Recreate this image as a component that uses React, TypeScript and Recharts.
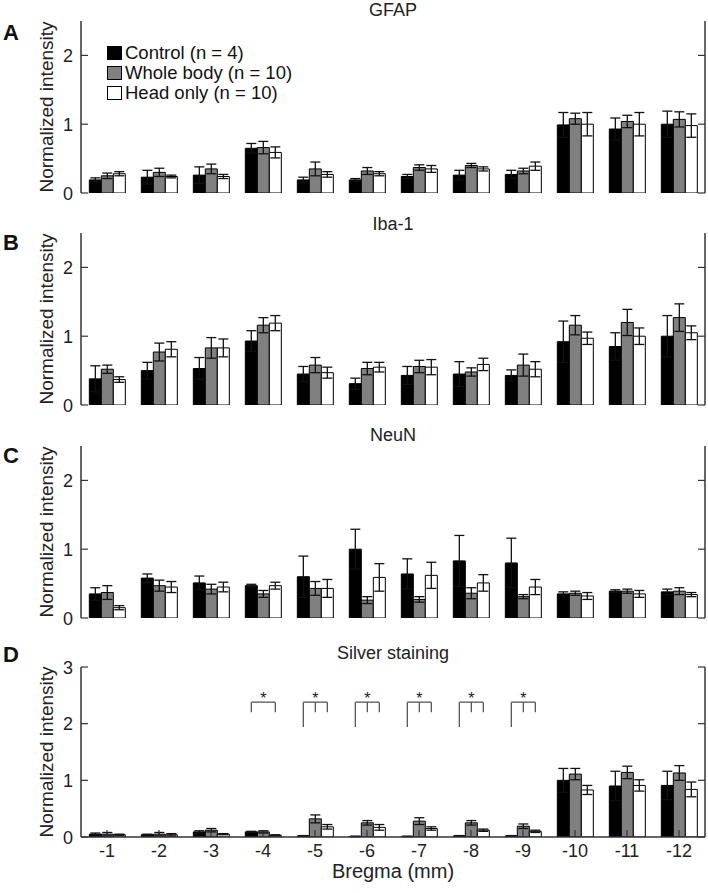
import { BarChart, Bar, XAxis, YAxis, ErrorBar, LabelList } from "recharts";

const FONT = "'Liberation Sans', Arial, Helvetica, sans-serif";
const AXIS = "#333333";

const categories = ["-1", "-2", "-3", "-4", "-5", "-6", "-7", "-8", "-9", "-10", "-11", "-12"];

const seriesNames = ["Control (n = 4)", "Whole body (n = 10)", "Head only (n = 10)"];
const seriesFills = ["#000000", "#808080", "#ffffff"];

// A: GFAP
const gfapControl = [0.19, 0.23, 0.26, 0.65, 0.19, 0.19, 0.24, 0.26, 0.27, 0.99, 0.93, 1.0];
const gfapControlErr = [0.03, 0.1, 0.12, 0.07, 0.04, 0.02, 0.03, 0.07, 0.06, 0.18, 0.16, 0.19];
const gfapWhole = [0.25, 0.3, 0.35, 0.66, 0.35, 0.32, 0.37, 0.4, 0.32, 1.08, 1.04, 1.07];
const gfapWholeErr = [0.04, 0.06, 0.07, 0.09, 0.1, 0.05, 0.04, 0.03, 0.04, 0.08, 0.09, 0.11];
const gfapHead = [0.28, 0.24, 0.24, 0.59, 0.27, 0.28, 0.35, 0.35, 0.39, 1.0, 1.0, 0.98];
const gfapHeadErr = [0.03, 0.02, 0.03, 0.08, 0.04, 0.03, 0.05, 0.03, 0.06, 0.17, 0.17, 0.17];

// B: Iba-1
const ibaControl = [0.38, 0.5, 0.53, 0.93, 0.45, 0.31, 0.43, 0.45, 0.43, 0.92, 0.85, 1.0];
const ibaControlErr = [0.19, 0.12, 0.16, 0.15, 0.11, 0.08, 0.13, 0.18, 0.08, 0.3, 0.2, 0.3];
const ibaWhole = [0.52, 0.77, 0.83, 1.16, 0.58, 0.53, 0.56, 0.48, 0.58, 1.16, 1.2, 1.27];
const ibaWholeErr = [0.06, 0.13, 0.15, 0.11, 0.11, 0.09, 0.09, 0.06, 0.16, 0.14, 0.19, 0.2];
const ibaHead = [0.37, 0.81, 0.83, 1.19, 0.47, 0.55, 0.55, 0.59, 0.52, 0.97, 1.0, 1.05];
const ibaHeadErr = [0.04, 0.11, 0.13, 0.11, 0.08, 0.07, 0.11, 0.09, 0.11, 0.09, 0.12, 0.1];

// C: NeuN
const neunControl = [0.35, 0.58, 0.51, 0.47, 0.6, 1.0, 0.64, 0.83, 0.8, 0.35, 0.39, 0.38];
const neunControlErr = [0.09, 0.06, 0.1, 0.02, 0.3, 0.29, 0.22, 0.37, 0.36, 0.03, 0.02, 0.04];
const neunWhole = [0.37, 0.47, 0.42, 0.35, 0.43, 0.26, 0.27, 0.36, 0.31, 0.36, 0.39, 0.39];
const neunWholeErr = [0.1, 0.08, 0.07, 0.05, 0.1, 0.05, 0.04, 0.08, 0.03, 0.03, 0.03, 0.05];
const neunHead = [0.15, 0.45, 0.45, 0.47, 0.43, 0.59, 0.62, 0.51, 0.45, 0.32, 0.35, 0.34];
const neunHeadErr = [0.03, 0.08, 0.07, 0.05, 0.13, 0.2, 0.19, 0.12, 0.11, 0.05, 0.05, 0.03];

// D: Silver staining
const silverControl = [0.05, 0.04, 0.09, 0.09, 0.02, 0.01, 0.01, 0.02, 0.02, 1.0, 0.9, 0.91];
const silverControlErr = [0.02, 0.01, 0.02, 0.01, 0.005, 0.005, 0.005, 0.005, 0.005, 0.21, 0.26, 0.25];
const silverWhole = [0.05, 0.05, 0.12, 0.09, 0.32, 0.25, 0.28, 0.25, 0.19, 1.11, 1.14, 1.13];
const silverWholeErr = [0.03, 0.03, 0.03, 0.02, 0.07, 0.04, 0.06, 0.04, 0.04, 0.1, 0.11, 0.13];
const silverHead = [0.04, 0.04, 0.05, 0.03, 0.18, 0.17, 0.15, 0.12, 0.1, 0.83, 0.91, 0.84];
const silverHeadErr = [0.01, 0.02, 0.01, 0.01, 0.04, 0.05, 0.03, 0.02, 0.02, 0.08, 0.1, 0.13];

// significance brackets (panel D)
const sigCategories = ["-4", "-5", "-6", "-7", "-8", "-9"];
const sigTop = [2.38, 2.38, 2.38, 2.38, 2.38, 2.38];
const sigLeftLeg = [2.2, 1.94, 1.94, 1.94, 1.94, 1.94];
const sigMidLeg = [null, 2.2, 2.2, 2.2, 2.2, 2.2];
const sigRightLeg = [2.2, 2.2, 2.2, 2.2, 2.2, 2.2];
const sigStar = 2.47;

function makeRows(c: number[], cE: number[], w: number[], wE: number[], h: number[], hE: number[]) {
  return categories.map((cat, i) => ({ cat, c: c[i], cE: cE[i], w: w[i], wE: wE[i], h: h[i], hE: hE[i] }));
}

const LeftTick = (props: any) => {
  const { x, y, payload } = props;
  return (
    <g>
      <line x1={x} x2={x + 7} y1={y} y2={y} stroke={AXIS} strokeWidth={1.2} />
      <text x={x - 8} y={y} dy={6.5} textAnchor="end" fontSize={18} fontFamily={FONT} fill="#222">
        {payload.value}
      </text>
    </g>
  );
};

const RightTick = (props: any) => {
  const { x, y } = props;
  return <line x1={x - 7} x2={x} y1={y} y2={y} stroke={AXIS} strokeWidth={1.2} />;
};

const TopTick = (props: any) => {
  const { x, y } = props;
  return <line x1={x} x2={x} y1={y} y2={y + 7} stroke={AXIS} strokeWidth={1.2} />;
};

const makeBottomTick = (showLabel: boolean) => (props: any) => {
  const { x, y, payload } = props;
  return (
    <g>
      <line x1={x} x2={x} y1={y} y2={y - 7} stroke={AXIS} strokeWidth={1.2} />
      {showLabel && (
        <text x={x} y={y + 20} textAnchor="middle" fontSize={18} fontFamily={FONT} fill="#222">
          {payload.value}
        </text>
      )}
    </g>
  );
};

const renderBracket = (props: any) => {
  const vb = props.viewBox ?? props;
  const index = props.index;
  const value = Number(props.value);
  const k = sigCategories.indexOf(categories[index]);
  if (k < 0 || !value || !vb) return null;
  const { x, y, width, height } = vb;
  const ppu = height / value;
  const base = y + height;
  const toY = (v: number) => base - v * ppu;
  const cx = x + width / 2;
  const lx = cx - width;
  const rx = cx + width;
  const top = toY(sigTop[k]);
  const mid = sigMidLeg[k];
  return (
    <g key={`br-${index}`} stroke="#555" strokeWidth={1.3} fill="none">
      <line x1={lx} x2={rx} y1={top} y2={top} />
      <line x1={lx} x2={lx} y1={top} y2={toY(sigLeftLeg[k])} />
      <line x1={rx} x2={rx} y1={top} y2={toY(sigRightLeg[k])} />
      {mid !== null && <line x1={cx} x2={cx} y1={top} y2={toY(mid)} />}
      <text x={cx} y={toY(sigStar)} dy={7} textAnchor="middle" fontSize={16} fontFamily={FONT} fill="#222" stroke="none">
        *
      </text>
    </g>
  );
};

type PanelProps = {
  letter: string;
  title: string;
  plotTop: number;
  plotHeight: number;
  yMax: number;
  yTicks: number[];
  rows: any[];
  xLabels?: boolean;
  titleY: number;
  letterY: number;
  brackets?: boolean;
};

function Panel({ letter, title, plotTop, plotHeight, yMax, yTicks, rows, xLabels, titleY, letterY, brackets }: PanelProps) {
  const marginTop = 12;
  const bottomH = xLabels ? 52 : 0;
  const marginBottom = xLabels ? 0 : 12;
  const height = marginTop + plotHeight + bottomH + marginBottom;
  const keys = [
    ["c", "cE"],
    ["w", "wE"],
    ["h", "hE"],
  ];
  return (
    <>
      <div style={{ position: "absolute", left: 3, top: letterY - 13, fontFamily: FONT, fontWeight: "bold", fontSize: 22, lineHeight: "26px", color: "#111" }}>
        {letter}
      </div>
      <div style={{ position: "absolute", left: 81, width: 624, top: titleY - 11, textAlign: "center", fontFamily: FONT, fontSize: 18, lineHeight: "22px", color: "#222" }}>
        {title}
      </div>
      <div style={{ position: "absolute", left: 0, top: plotTop - marginTop }}>
        <BarChart
          width={708}
          height={height}
          data={rows}
          margin={{ top: marginTop, right: 0, bottom: marginBottom, left: 0 }}
          barCategoryGap="16%"
          barGap={0}
        >
          <XAxis
            dataKey="cat"
            height={bottomH}
            stroke={AXIS}
            axisLine={{ stroke: AXIS, strokeWidth: 1.5 }}
            tickLine={false}
            tickSize={0}
            tickMargin={0}
            interval={0}
            tick={makeBottomTick(!!xLabels)}
            label={xLabels ? { value: "Bregma (mm)", position: "insideBottom", offset: 11, style: { fontSize: 20, fontFamily: FONT, fill: "#222" } } : undefined}
          />
          <XAxis
            xAxisId="top"
            orientation="top"
            dataKey="cat"
            height={0}
            axisLine={{ stroke: AXIS, strokeWidth: 1.5 }}
            tickLine={false}
            tickSize={0}
            tickMargin={0}
            interval={0}
            tick={TopTick}
          />
          <YAxis
            width={81}
            domain={[0, yMax]}
            ticks={yTicks}
            allowDataOverflow
            axisLine={{ stroke: AXIS, strokeWidth: 1.5 }}
            tickLine={false}
            tickSize={0}
            tickMargin={0}
            tick={LeftTick}
            label={{ value: "Normalized intensity", angle: -90, position: "center", dx: 6, style: { fontSize: 19, fontFamily: FONT, fill: "#222" } }}
          />
          <YAxis
            yAxisId="right"
            orientation="right"
            width={3}
            domain={[0, yMax]}
            ticks={yTicks}
            allowDataOverflow
            axisLine={{ stroke: AXIS, strokeWidth: 1.5 }}
            tickLine={false}
            tickSize={0}
            tickMargin={0}
            tick={RightTick}
          />
          {keys.map(([k, e], i) => (
            <Bar key={k} dataKey={k} name={seriesNames[i]} fill={seriesFills[i]} stroke="#000" strokeWidth={1} isAnimationActive={false}>
              <ErrorBar dataKey={e} width={5} stroke="#111" strokeWidth={1.3} isAnimationActive={false} />
              {brackets && k === "w" && <LabelList dataKey="w" content={renderBracket} />}
            </Bar>
          ))}
        </BarChart>
      </div>
    </>
  );
}

function LegendBox() {
  return (
    <div style={{ position: "absolute", left: 107, top: 43, fontFamily: FONT, fontSize: 18.5, color: "#111" }}>
      {seriesNames.map((n, i) => (
        <div key={n} style={{ display: "flex", alignItems: "center", height: 20 }}>
          <span style={{ display: "inline-block", width: 13, height: 12, background: seriesFills[i], border: "1px solid #000", marginRight: 3 }} />
          <span style={{ lineHeight: "20px" }}>{n}</span>
        </div>
      ))}
    </div>
  );
}

export default function App() {
  return (
    <div style={{ position: "absolute", left: 0, top: 0, width: 708, height: 893, background: "#fff" }}>
      <Panel letter="A" title="GFAP" plotTop={21} plotHeight={172} yMax={2.5} yTicks={[0, 1, 2]} titleY={10} letterY={33}
        rows={makeRows(gfapControl, gfapControlErr, gfapWhole, gfapWholeErr, gfapHead, gfapHeadErr)} />
      <LegendBox />
      <Panel letter="B" title="Iba-1" plotTop={233} plotHeight={172} yMax={2.5} yTicks={[0, 1, 2]} titleY={224} letterY={243}
        rows={makeRows(ibaControl, ibaControlErr, ibaWhole, ibaWholeErr, ibaHead, ibaHeadErr)} />
      <Panel letter="C" title="NeuN" plotTop={446} plotHeight={172} yMax={2.5} yTicks={[0, 1, 2]} titleY={435} letterY={456}
        rows={makeRows(neunControl, neunControlErr, neunWhole, neunWholeErr, neunHead, neunHeadErr)} />
      <Panel letter="D" title="Silver staining" plotTop={667} plotHeight={170} yMax={3} yTicks={[0, 1, 2, 3]} titleY={653} letterY={655}
        xLabels brackets
        rows={makeRows(silverControl, silverControlErr, silverWhole, silverWholeErr, silverHead, silverHeadErr)} />
    </div>
  );
}
